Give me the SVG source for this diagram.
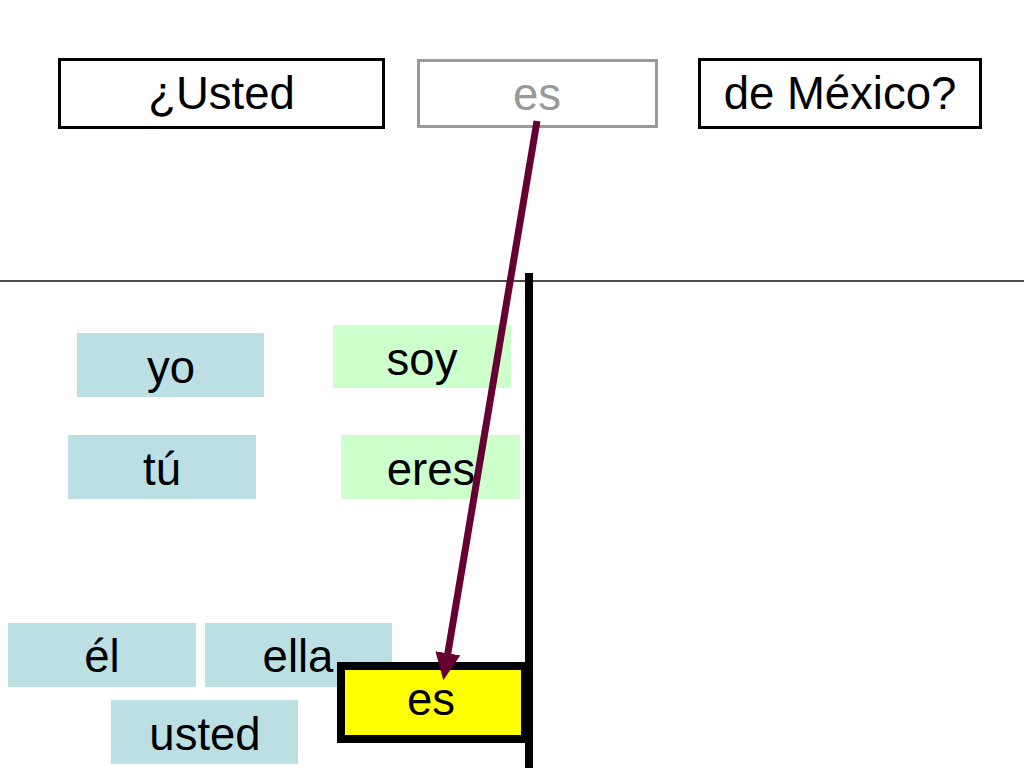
<svg xmlns="http://www.w3.org/2000/svg" width="1024" height="768" viewBox="0 0 1024 768">
<defs>
<style>
text{font-family:"Liberation Sans",Arial,sans-serif;font-size:45.5px;text-anchor:middle;fill:#000}
.top{fill:#fff;stroke:#000;stroke-width:3}
.gray{fill:#fff;stroke:#999;stroke-width:3}
.pron{fill:#bbdfe3}
.verb{fill:#ccffcc}
.hi{fill:#ffff00;stroke:#000;stroke-width:8}
</style>
<marker id="ah" markerUnits="strokeWidth" markerWidth="5" markerHeight="5" refX="0.3" refY="1.8" orient="auto">
<path d="M0,0 L3.9,1.8 L0,3.6 z" fill="#660033"/>
</marker>
</defs>
<rect width="1024" height="768" fill="#fff"/>
<g id="dividers">
<line x1="0" y1="281" x2="1024" y2="281" stroke="#111" stroke-width="1.5"/>
<line x1="529" y1="273" x2="529" y2="768" stroke="#000" stroke-width="8"/>
</g>
<g id="n-usted-q"><rect class="top" x="59.5" y="59.5" width="324" height="68"/><text x="221.5" y="109">¿Usted</text></g>
<g id="n-es-top"><rect class="gray" x="418.5" y="60.5" width="238" height="66"/><text x="537" y="110" style="fill:#999">es</text></g>
<g id="n-mexico"><rect class="top" x="699.5" y="59.5" width="281" height="68"/><text x="840" y="109">de México?</text></g>
<g id="n-yo"><rect class="pron" x="77" y="333" width="187" height="64"/><text x="171" y="383">yo</text></g>
<g id="n-soy"><rect class="verb" x="333" y="325" width="178" height="63"/><text x="422" y="375">soy</text></g>
<g id="n-tu"><rect class="pron" x="68" y="435" width="188" height="64"/><text x="162" y="485">tú</text></g>
<g id="n-eres"><rect class="verb" x="341" y="435" width="179" height="64"/><text x="431" y="485">eres</text></g>
<g id="n-el"><rect class="pron" x="8" y="623" width="188" height="64"/><text x="102" y="672">él</text></g>
<g id="n-ella"><rect class="pron" x="205" y="623" width="187" height="64"/><text x="298" y="672">ella</text></g>
<g id="n-usted"><rect class="pron" x="111" y="700" width="187" height="64"/><text x="205" y="750">usted</text></g>
<g id="n-es"><rect class="hi" x="341" y="666" width="184" height="73"/><text x="431" y="715">es</text></g>
<g id="connectors">
<line x1="537" y1="121" x2="447.5" y2="655.4" stroke="#660033" stroke-width="7" marker-end="url(#ah)"/>
</g>
</svg>
